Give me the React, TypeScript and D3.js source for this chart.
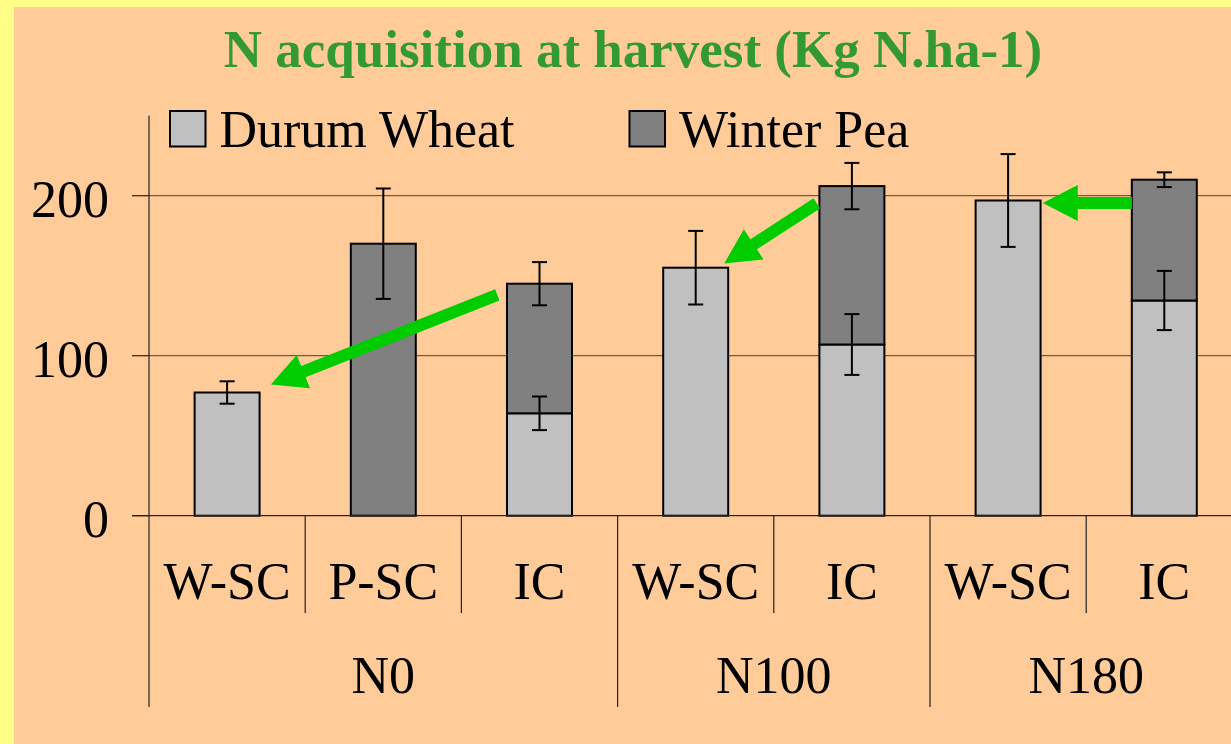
import React, { useEffect, useRef } from "react";
import * as d3 from "d3";

const categories = ["W-SC", "P-SC", "IC", "W-SC", "IC", "W-SC", "IC"];
const groups = ["N0", "N100", "N180"];
const groupSizes = [3, 2, 2];

// N acquired (kg N/ha): wheat part and pea part (stacked on top)
const wheat = [77, 0, 64, 155, 107, 197, 134.5];
const pea = [0, 170, 81, 0, 99, 0, 75.5];
const wheatErr = [7, 0, 10.5, 23, 19, 29, 18.5];
const totalErr = [0, 34.5, 13.5, 0, 14.5, 0, 4.6];

const yTicks = [0, 100, 200];
const seriesNames = ["Durum Wheat", "Winter Pea"];
const seriesColors = ["#C0C0C0", "#808080"];

// green arrows: [slot position, value] tail -> tip
const arrows = [
  { from: [2.23, 138], to: [0.78, 82] },
  { from: [4.275, 195.2], to: [3.683, 157.7] },
  { from: [6.293, 195.4], to: [5.722, 195.4] },
];

const W = 1231;
const H = 744;
const FONT = "'Liberation Serif', 'Times New Roman', serif";

export default function App() {
  const ref = useRef<SVGSVGElement>(null);

  useEffect(() => {
    if (!ref.current) return;
    const svg = d3.select(ref.current);
    svg.selectAll("*").remove();

    const left = 149;
    const step = 156.2;
    const n = categories.length;

    const x = d3
      .scaleBand<number>()
      .domain(d3.range(n))
      .range([left, left + n * step])
      .paddingInner(0.584)
      .paddingOuter(0.292);
    const xu = d3.scaleLinear().domain([0, n]).range([left, left + n * step]);
    const y = d3.scaleLinear().domain([0, 250]).range([515.7, 115.7]);

    // background
    svg.append("rect").attr("width", W).attr("height", H).attr("fill", "#FFFF88");
    svg.append("rect").attr("x", 14).attr("y", 7).attr("width", W - 14).attr("height", H - 7).attr("fill", "#FFCC99");

    // title
    svg
      .append("text")
      .attr("x", 633)
      .attr("y", 66.5)
      .attr("text-anchor", "middle")
      .attr("fill", "#339933")
      .style("font-family", FONT)
      .style("font-weight", "bold")
      .style("font-size", "53px")
      .text("N acquisition at harvest (Kg N.ha-1)");

    // grid lines
    svg
      .selectAll(".grid")
      .data(yTicks.filter((t) => t > 0))
      .join("line")
      .attr("x1", left)
      .attr("x2", W)
      .attr("y1", (d) => y(d))
      .attr("y2", (d) => y(d))
      .attr("stroke", "#404040")
      .attr("stroke-width", 1);

    // bars
    const g = svg.append("g");
    categories.forEach((_, i) => {
      const bx = x(i) as number;
      if (wheat[i] > 0) {
        g.append("rect")
          .attr("x", bx)
          .attr("width", x.bandwidth())
          .attr("y", y(wheat[i]))
          .attr("height", y(0) - y(wheat[i]))
          .attr("fill", seriesColors[0])
          .attr("stroke", "#000")
          .attr("stroke-width", 2);
      }
      if (pea[i] > 0) {
        g.append("rect")
          .attr("x", bx)
          .attr("width", x.bandwidth())
          .attr("y", y(wheat[i] + pea[i]))
          .attr("height", y(wheat[i]) - y(wheat[i] + pea[i]))
          .attr("fill", seriesColors[1])
          .attr("stroke", "#000")
          .attr("stroke-width", 2);
      }
    });

    // error bars
    const errBar = (cx: number, v: number, e: number) => {
      const cap = 7.5;
      const eb = svg.append("g").attr("stroke", "#000").attr("stroke-width", 2);
      eb.append("line").attr("x1", cx).attr("x2", cx).attr("y1", y(v + e)).attr("y2", y(v - e));
      eb.append("line").attr("x1", cx - cap).attr("x2", cx + cap).attr("y1", y(v + e)).attr("y2", y(v + e));
      eb.append("line").attr("x1", cx - cap).attr("x2", cx + cap).attr("y1", y(v - e)).attr("y2", y(v - e));
    };
    categories.forEach((_, i) => {
      const cx = (x(i) as number) + x.bandwidth() / 2;
      if (wheat[i] > 0 && wheatErr[i] > 0) errBar(cx, wheat[i], wheatErr[i]);
      if (pea[i] > 0 && totalErr[i] > 0) errBar(cx, wheat[i] + pea[i], totalErr[i]);
    });

    // axes
    const ax = svg.append("g").attr("stroke", "#222").attr("stroke-width", 1.2);
    ax.append("line").attr("x1", left).attr("x2", left).attr("y1", y(250)).attr("y2", 707);
    ax.append("line").attr("x1", 132).attr("x2", W).attr("y1", y(0)).attr("y2", y(0));
    yTicks.forEach((t) => {
      ax.append("line").attr("x1", 132).attr("x2", left).attr("y1", y(t)).attr("y2", y(t));
    });
    svg
      .selectAll(".ylab")
      .data(yTicks)
      .join("text")
      .attr("x", 109)
      .attr("y", (d) => y(d) + 21)
      .attr("text-anchor", "end")
      .style("font-family", FONT)
      .style("font-size", "52px")
      .text((d) => d);

    // category dividers and group dividers
    let acc = 0;
    const groupStarts: number[] = [];
    groupSizes.forEach((s) => {
      groupStarts.push(acc);
      acc += s;
    });
    for (let i = 1; i <= n; i++) {
      const isGroup = groupStarts.includes(i) || i === n;
      ax.append("line")
        .attr("x1", xu(i))
        .attr("x2", xu(i))
        .attr("y1", y(0))
        .attr("y2", isGroup ? 707 : 613);
    }

    svg
      .selectAll(".clab")
      .data(categories)
      .join("text")
      .attr("x", (_, i) => (x(i) as number) + x.bandwidth() / 2)
      .attr("y", 599)
      .attr("text-anchor", "middle")
      .style("font-family", FONT)
      .style("font-size", "52px")
      .text((d) => d);

    svg
      .selectAll(".glab")
      .data(groups)
      .join("text")
      .attr("x", (_, i) => (xu(groupStarts[i]) + xu(groupStarts[i] + groupSizes[i])) / 2)
      .attr("y", 693)
      .attr("text-anchor", "middle")
      .style("font-family", FONT)
      .style("font-size", "52px")
      .text((d) => d);

    // arrows
    arrows.forEach((a) => {
      const x1 = xu(a.from[0]);
      const y1 = y(a.from[1]);
      const x2 = xu(a.to[0]);
      const y2 = y(a.to[1]);
      const len = Math.hypot(x2 - x1, y2 - y1);
      const ux = (x2 - x1) / len;
      const uy = (y2 - y1) / len;
      const px = -uy;
      const py = ux;
      const sw = 6; // half shaft width
      const hl = 35; // head length
      const hw = 18; // half head width
      const bx = x2 - ux * hl;
      const by = y2 - uy * hl;
      const pts = [
        [x1 + px * sw, y1 + py * sw],
        [bx + px * sw, by + py * sw],
        [bx + px * hw, by + py * hw],
        [x2, y2],
        [bx - px * hw, by - py * hw],
        [bx - px * sw, by - py * sw],
        [x1 - px * sw, y1 - py * sw],
      ];
      svg.append("polygon").attr("points", pts.map((p) => p.join(",")).join(" ")).attr("fill", "#00CC00");
    });

    // legend
    const legendX = [170, 629.5];
    seriesNames.forEach((name, i) => {
      svg
        .append("rect")
        .attr("x", legendX[i])
        .attr("y", 111)
        .attr("width", 35.5)
        .attr("height", 35.5)
        .attr("fill", seriesColors[i])
        .attr("stroke", "#000")
        .attr("stroke-width", 2);
      svg
        .append("text")
        .attr("x", legendX[i] + 49.5)
        .attr("y", 146.5)
        .style("font-family", FONT)
        .style("font-size", "52px")
        .text(name);
    });
  }, []);

  return (
    <div style={{ position: "absolute", left: 0, top: 0 }}>
      <svg ref={ref} width={W} height={H} style={{ display: "block" }} />
    </div>
  );
}
